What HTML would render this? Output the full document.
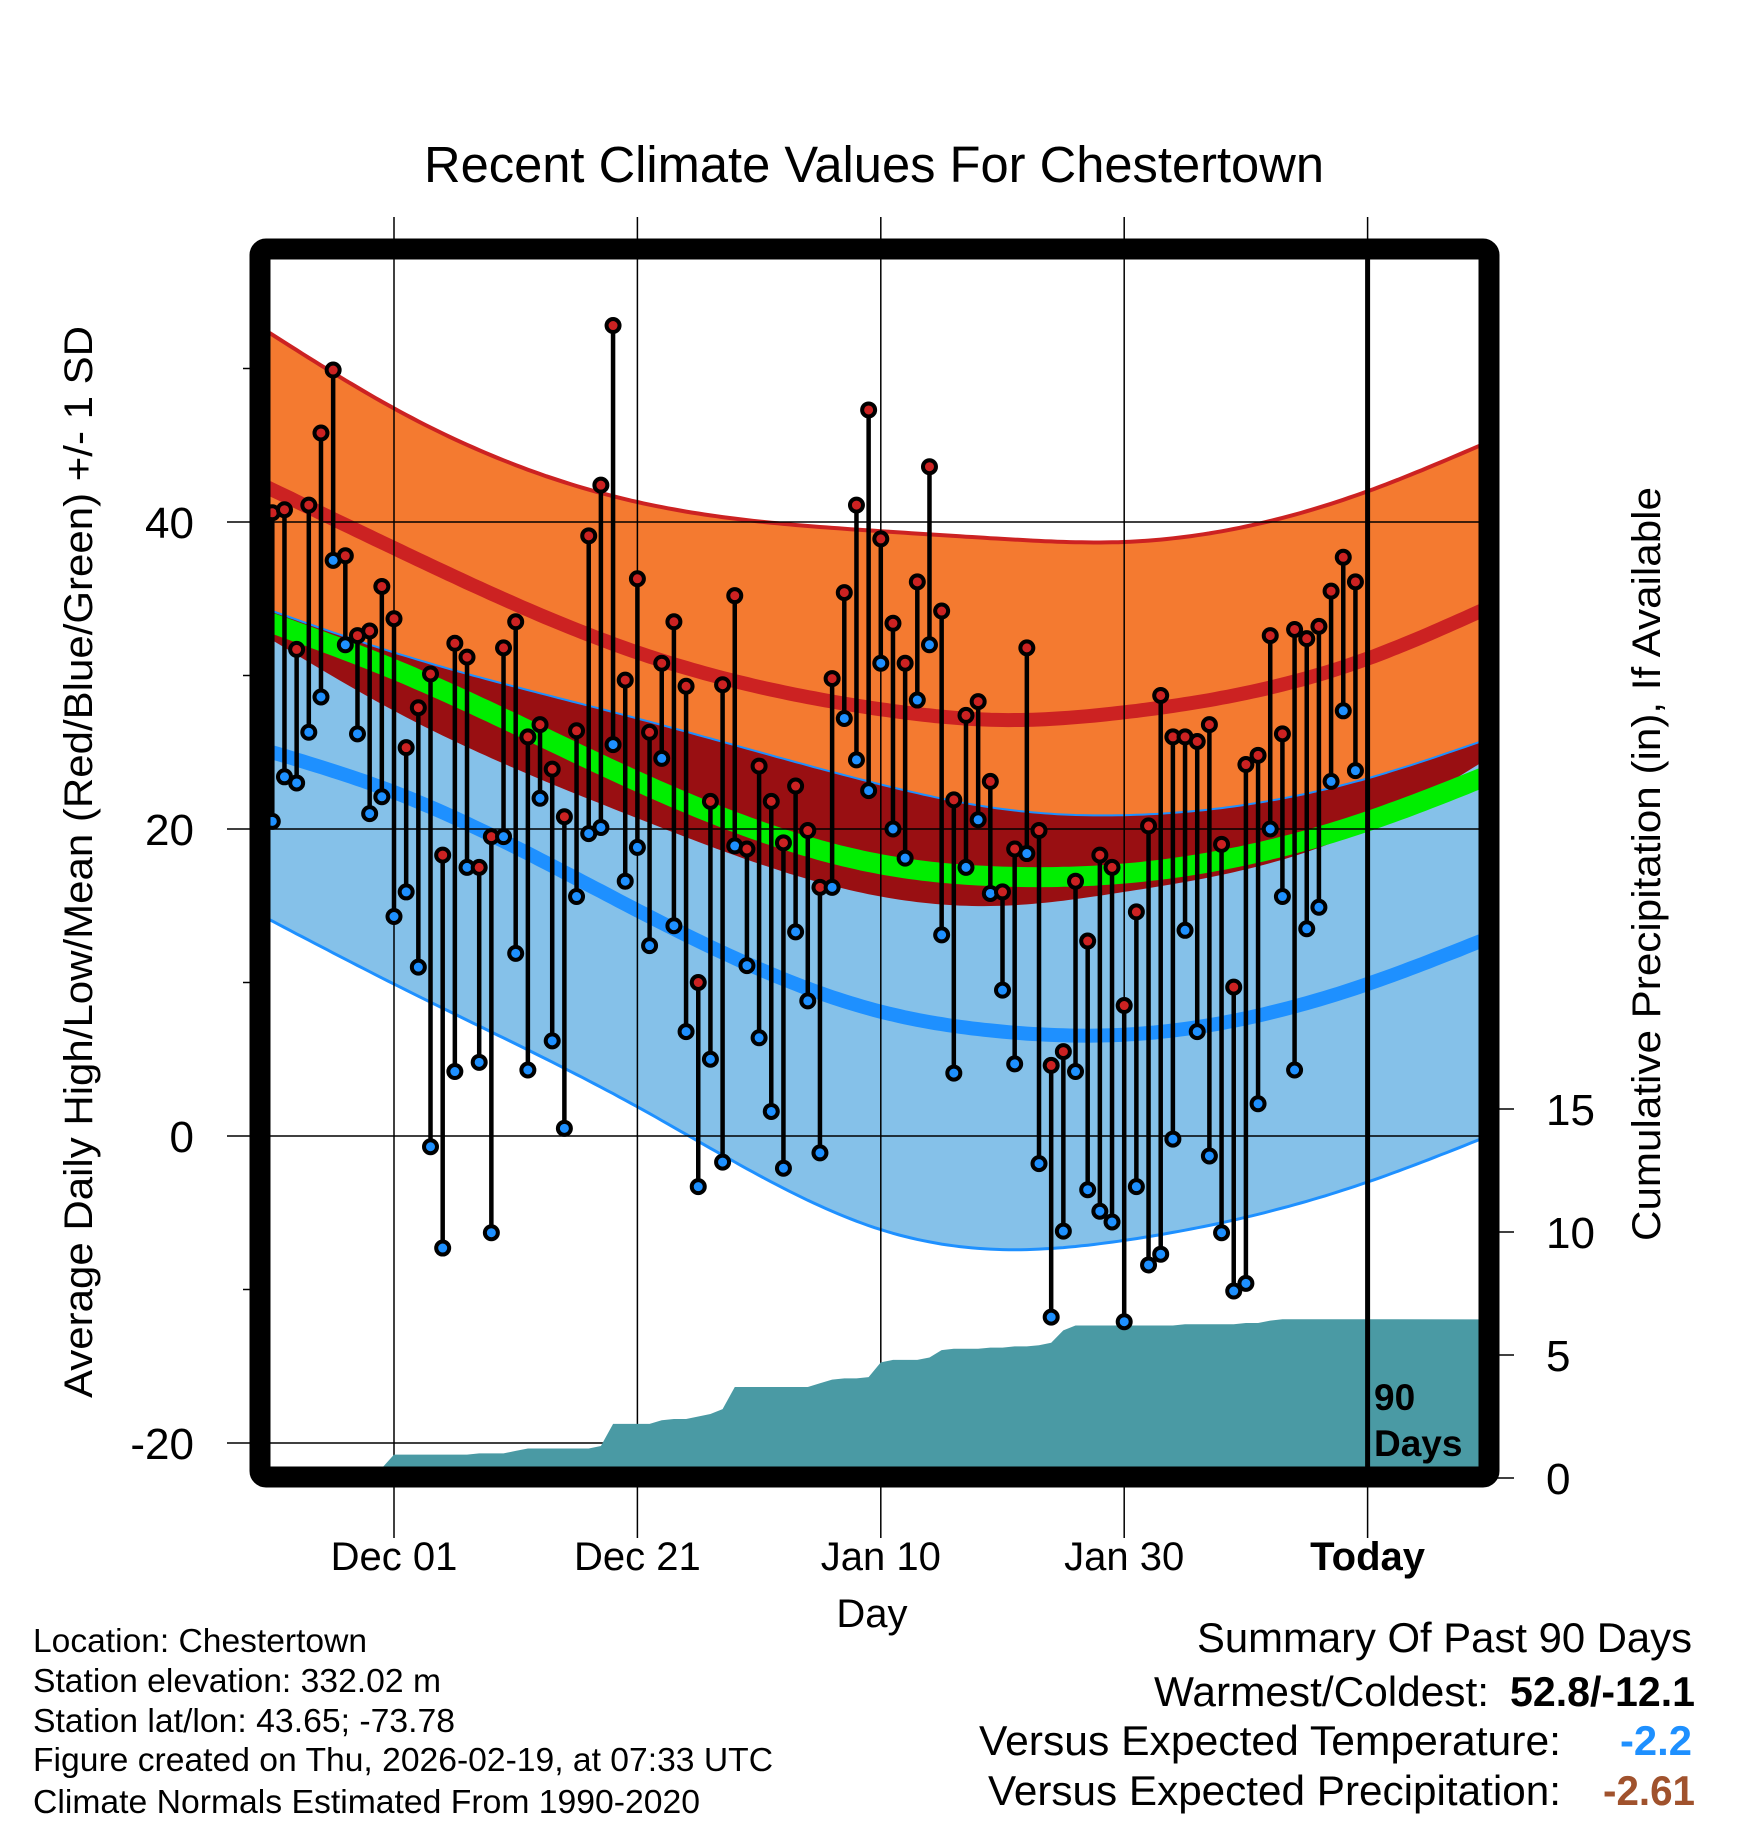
<!DOCTYPE html>
<html><head><meta charset="utf-8"><style>
html,body{margin:0;padding:0;background:#fff}
svg{display:block;font-family:"Liberation Sans",sans-serif}
</style></head><body>
<svg id="chart" width="1748" height="1828" viewBox="0 0 1748 1828" xmlns="http://www.w3.org/2000/svg">
<defs><clipPath id="plotclip"><rect x="270" y="259" width="1209" height="1208"/></clipPath></defs>
<text x="874" y="182" font-size="51" text-anchor="middle" textLength="900" lengthAdjust="spacingAndGlyphs">Recent Climate Values For Chestertown</text>
<g id="bands" clip-path="url(#plotclip)"></g>
<g id="grid"></g>
<g id="precip" clip-path="url(#plotclip)"></g>
<g id="marks"></g>
<g id="axes"></g>
<rect x="260" y="249" width="1229" height="1228" rx="6" fill="none" stroke="#000" stroke-width="21"/>
<text x="1374" y="1410" font-size="37" font-weight="bold">90</text>
<text x="1374" y="1456" font-size="37" font-weight="bold">Days</text>
<text transform="translate(92,862) rotate(-90)" font-size="40" text-anchor="middle" textLength="1072" lengthAdjust="spacingAndGlyphs">Average Daily High/Low/Mean (Red/Blue/Green) +/- 1 SD</text>
<text transform="translate(1660,864) rotate(-90)" font-size="40" text-anchor="middle" textLength="754" lengthAdjust="spacingAndGlyphs">Cumulative Precipitation (in), If Available</text>
<text x="872" y="1627" font-size="40" text-anchor="middle">Day</text>
<g font-size="33">
<text x="33" y="1652" textLength="334" lengthAdjust="spacingAndGlyphs">Location: Chestertown</text>
<text x="33" y="1692" textLength="408" lengthAdjust="spacingAndGlyphs">Station elevation: 332.02 m</text>
<text x="33" y="1732" textLength="422" lengthAdjust="spacingAndGlyphs">Station lat/lon: 43.65; -73.78</text>
<text x="33" y="1771" textLength="740" lengthAdjust="spacingAndGlyphs">Figure created on Thu, 2026-02-19, at 07:33 UTC</text>
<text x="33" y="1813" textLength="667" lengthAdjust="spacingAndGlyphs">Climate Normals Estimated From 1990-2020</text>
</g>
<g font-size="42">
<text x="1197" y="1652" textLength="495" lengthAdjust="spacingAndGlyphs">Summary Of Past 90 Days</text>
<text x="1154" y="1706" textLength="335" lengthAdjust="spacingAndGlyphs">Warmest/Coldest:</text>
<text x="1510" y="1706" font-weight="bold" textLength="185" lengthAdjust="spacingAndGlyphs">52.8/-12.1</text>
<text x="979" y="1755" textLength="582" lengthAdjust="spacingAndGlyphs">Versus Expected Temperature:</text>
<text x="1620" y="1755" fill="#1e90ff" font-weight="bold" textLength="72" lengthAdjust="spacingAndGlyphs">-2.2</text>
<text x="988" y="1805" textLength="573" lengthAdjust="spacingAndGlyphs">Versus Expected Precipitation:</text>
<text x="1603" y="1805" fill="#a0522d" font-weight="bold" textLength="92" lengthAdjust="spacingAndGlyphs">-2.61</text>
</g>
</svg>
<script>
const highs=[40.6,40.8,31.7,41.1,45.8,49.9,37.8,32.6,32.9,35.8,33.7,25.3,27.9,30.1,18.3,32.1,31.2,17.5,19.5,31.8,33.5,26.0,26.8,23.9,20.8,26.4,39.1,42.4,52.8,29.7,36.3,26.3,30.8,33.5,29.3,10.0,21.8,29.4,35.2,18.7,24.1,21.8,19.1,22.8,19.9,16.2,29.8,35.4,41.1,47.3,38.9,33.4,30.8,36.1,43.6,34.2,21.9,27.4,28.3,23.1,15.9,18.7,31.8,19.9,4.6,5.5,16.6,12.7,18.3,17.5,8.5,14.6,20.2,28.7,26.0,26.0,25.7,26.8,19.0,9.7,24.2,24.8,32.6,26.2,33.0,32.4,33.2,35.5,37.7,36.1];
const lows=[20.5,23.4,23.0,26.3,28.6,37.5,32.0,26.2,21.0,22.1,14.3,15.9,11.0,-0.7,-7.3,4.2,17.5,4.8,-6.3,19.5,11.9,4.3,22.0,6.2,0.5,15.6,19.7,20.1,25.5,16.6,18.8,12.4,24.6,13.7,6.8,-3.3,5.0,-1.7,18.9,11.1,6.4,1.6,-2.1,13.3,8.8,-1.1,16.2,27.2,24.5,22.5,30.8,20.0,18.1,28.4,32.0,13.1,4.1,17.5,20.6,15.8,9.5,4.7,18.4,-1.8,-11.8,-6.2,4.2,-3.5,-4.9,-5.6,-12.1,-3.3,-8.4,-7.7,-0.2,13.4,6.8,-1.3,-6.3,-10.1,-9.6,2.1,20.0,15.6,4.3,13.5,14.9,23.1,27.7,23.8];
const precip=[0,0,0,0,0,0,0,0,0.1,0.4,0.95,0.95,0.95,0.95,0.95,0.95,0.95,1.0,1.0,1.0,1.1,1.2,1.2,1.2,1.2,1.2,1.2,1.3,2.2,2.2,2.2,2.2,2.35,2.4,2.4,2.5,2.6,2.8,3.7,3.7,3.7,3.7,3.7,3.7,3.7,3.85,4.0,4.05,4.05,4.1,4.7,4.8,4.8,4.8,4.9,5.2,5.25,5.25,5.25,5.3,5.3,5.35,5.35,5.4,5.5,6.0,6.2,6.2,6.2,6.2,6.2,6.2,6.2,6.2,6.2,6.25,6.25,6.25,6.25,6.25,6.3,6.3,6.4,6.45,6.45,6.45,6.45,6.45,6.45,6.45];
const normDays=[0,10,30,50,60,70,90,99.3];
const highPlus=[52.2,47.4,41.3,39.4,38.9,38.7,42.0,45.0];
const highMean=[42.1,38.3,31.5,27.8,27.1,27.6,31.1,34.2];
const highMinus=[32.3,27.7,20.7,15.6,15.0,15.9,20.1,24.3];
const lowPlus=[34.2,31.5,27.2,22.9,21.3,20.9,23.3,25.7];
const meanT=[33.4,30.4,23.1,17.7,16.9,17.1,20.5,23.3];
const lowMean=[25.0,22.4,14.7,8.1,6.8,6.6,9.9,12.7];
const lowMinus=[14.0,9.9,1.9,-6.1,-7.4,-6.8,-3.0,-0.2];
const xTickDays=[10,30,50,70,90];
const xTickLabels=["Dec 01","Dec 21","Jan 10","Jan 30","Today"];
const yMajor=[-20,0,20,40];
const yMinor=[-10,10,30,50];
const pTicks=[0,5,10,15];

const NS="http://www.w3.org/2000/svg";
const X=d=>394+(d-10)*12.17;
const Y=v=>1136-15.35*v;
const P=v=>1478-24.6*v;
function mk(tag,attrs,parent){const e=document.createElementNS(NS,tag);for(const k in attrs)e.setAttribute(k,attrs[k]);parent.appendChild(e);return e;}
function spline(xs,ys){
  const n=xs.length,h=[],al=[],l=[1],mu=[0],z=[0],c=new Array(n).fill(0),b=[],d=[];
  for(let i=0;i<n-1;i++)h.push(xs[i+1]-xs[i]);
  for(let i=1;i<n-1;i++)al[i]=3/h[i]*(ys[i+1]-ys[i])-3/h[i-1]*(ys[i]-ys[i-1]);
  for(let i=1;i<n-1;i++){l[i]=2*(xs[i+1]-xs[i-1])-h[i-1]*mu[i-1];mu[i]=h[i]/l[i];z[i]=(al[i]-h[i-1]*z[i-1])/l[i];}
  for(let j=n-2;j>=0;j--){c[j]=(j>0?z[j]:0)-mu[j]*c[j+1];b[j]=(ys[j+1]-ys[j])/h[j]-h[j]*(c[j+1]+2*c[j])/3;d[j]=(c[j+1]-c[j])/(3*h[j]);}
  return t=>{let i=0;while(i<n-2&&t>xs[i+1])i++;const dx=t-xs[i];return ys[i]+b[i]*dx+c[i]*dx*dx+d[i]*dx*dx*dx;};
}
const samples=[];for(let d=-1;d<=100;d+=0.5)samples.push(d);
function linePts(arr){const f=spline(normDays,arr);return samples.map(d=>X(d).toFixed(1)+","+Y(f(d)).toFixed(1));}
function bandPath(top,bot){const a=linePts(top),b=linePts(bot).reverse();return "M"+a.join("L")+"L"+b.join("L")+"Z";}
const bands=document.getElementById('bands');
let e;
e=mk('path',{d:bandPath(highPlus,highMinus),fill:'#f47a30'},bands);


e=mk('path',{d:bandPath(lowPlus,lowMinus),fill:'#85c1e9'},bands);


e=mk('path',{d:bandPath(lowPlus,highMinus),fill:'#990f12'},bands);


const lines=[[highPlus,'#cc2222',4,'high-plus-sd-line'],[lowPlus,'#1e90ff',2,'low-plus-sd-line'],[lowMinus,'#1e90ff',3,'low-minus-sd-line'],[meanT,'#00ee00',20,'mean-line'],[lowMean,'#1e90ff',14,'low-mean-line'],[highMean,'#cc2222',14,'high-mean-line']];
lines.forEach(l=>{
  const p=mk('path',{d:"M"+linePts(l[0]).join("L"),fill:'none',stroke:l[1],'stroke-width':l[2]},bands);
  
  
});
const grid=document.getElementById('grid');
yMajor.forEach(v=>{
  const g=mk('line',{x1:227,x2:1479,y1:Y(v),y2:Y(v),stroke:'#000','stroke-width':1.5},grid);
  
  
});
xTickDays.forEach(d=>{
  const g=mk('line',{x1:X(d),x2:X(d),y1:217,y2:1538,stroke:'#000','stroke-width':1.5},grid);
  
  
});
const pr=document.getElementById('precip');
let pd="M"+X(-1)+","+P(0);
pd+="L"+X(-1)+","+P(precip[0]);
precip.forEach((v,i)=>{pd+="L"+X(i).toFixed(1)+","+P(v).toFixed(1);});
pd+="L"+X(100)+","+P(precip[precip.length-1])+"L"+X(100)+","+P(0)+"Z";
e=mk('path',{d:pd,fill:'#4a9aa4'},pr);


const marks=document.getElementById('marks');
highs.forEach((h,i)=>{
  const x=X(i);
  const s=mk('line',{x1:x,x2:x,y1:Y(h),y2:Y(lows[i]),stroke:'#000','stroke-width':4.5},marks);
  
  
});
highs.forEach((h,i)=>{
  const x=X(i);
  const a=mk('circle',{cx:x,cy:Y(lows[i]),r:6.5,fill:'#1e90ff',stroke:'#000','stroke-width':4},marks);
  
  
  const b=mk('circle',{cx:x,cy:Y(h),r:6.5,fill:'#cc2222',stroke:'#000','stroke-width':4},marks);
  
  
});
e=mk('line',{x1:X(90),x2:X(90),y1:259,y2:1467,stroke:'#000','stroke-width':5},marks);


const axes=document.getElementById('axes');
yMajor.forEach(v=>{
  const t=mk('text',{x:194,y:Y(v)+16,'font-size':44,'text-anchor':'end'},axes);
  t.textContent=v;
  
  
});
yMinor.forEach(v=>{
  const t=mk('line',{x1:243,x2:252,y1:Y(v),y2:Y(v),stroke:'#000','stroke-width':1.5},axes);
  
  
});
xTickDays.forEach((d,i)=>{
  const t=mk('text',{x:X(d),y:1570,'font-size':40,'text-anchor':'middle'},axes);
  if(i===4)t.setAttribute('font-weight','bold');
  t.textContent=xTickLabels[i];
  
  
});
pTicks.forEach(v=>{
  const l=mk('line',{x1:1494,x2:1514,y1:P(v),y2:P(v),stroke:'#000','stroke-width':1.5},axes);
  
  
  const t=mk('text',{x:1546,y:P(v)+16,'font-size':44},axes);
  t.textContent=v;
  
  
});
</script>
</body></html>
